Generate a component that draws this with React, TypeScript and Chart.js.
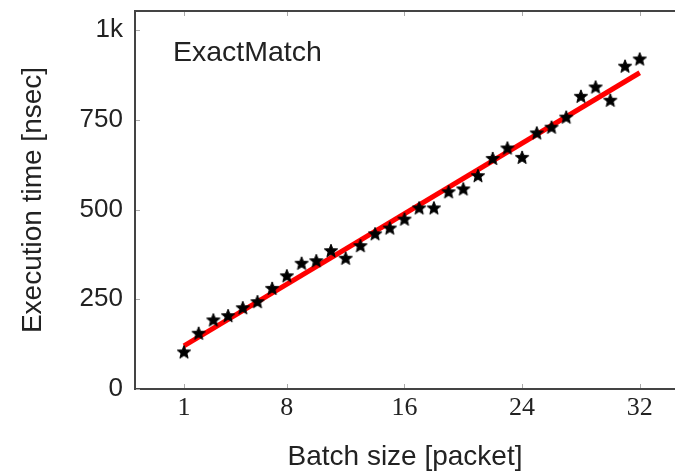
import React, { useEffect, useRef } from "react";
import { Chart, registerables } from "chart.js";

Chart.register(...registerables);

const batchSizes = [
  1, 2, 3, 4, 5, 6, 7, 8, 9, 10, 11, 12, 13, 14, 15, 16,
  17, 18, 19, 20, 21, 22, 23, 24, 25, 26, 27, 28, 29, 30, 31, 32,
];
const execTimes = [
  102, 154, 191, 203, 225, 242, 279, 314, 349, 356, 384, 363, 398, 431, 447, 472,
  503, 503, 548, 556, 593, 641, 670, 644, 712, 728, 756, 814, 840, 803, 898, 918,
];
const fitBatch = [1, 32];
const fitTimes = [120, 881];
const xTickValues = [1, 8, 16, 24, 32];
const yTickValues = [0, 250, 500, 750, 1000];
const yTickLabels = ["0", "250", "500", "750", "1k"];
const seriesLabel = "ExactMatch";
const xTitle = "Batch size [packet]";
const yTitle = "Execution time [nsec]";

const SANS = "'Liberation Sans', Arial, sans-serif";
const SERIF = "'Liberation Serif', 'Times New Roman', serif";
const TEXT = "#222222";
const AXIS = "#444444";

function makeStar(): HTMLCanvasElement {
  const s = 18;
  const c = document.createElement("canvas");
  c.width = s;
  c.height = s;
  const ctx = c.getContext("2d")!;
  ctx.translate(s / 2, s / 2);
  ctx.beginPath();
  for (let i = 0; i < 10; i++) {
    const r = i % 2 === 0 ? 7 : 3;
    const a = -Math.PI / 2 + (i * Math.PI) / 5;
    const x = r * Math.cos(a);
    const y = r * Math.sin(a);
    if (i === 0) ctx.moveTo(x, y);
    else ctx.lineTo(x, y);
  }
  ctx.closePath();
  ctx.fillStyle = "#000";
  ctx.fill();
  ctx.lineWidth = 1;
  ctx.strokeStyle = "#000";
  ctx.stroke();
  return c;
}

const framePlugin = {
  id: "frameAndLabel",
  afterDraw(chart: any) {
    const { ctx, chartArea } = chart;
    const xs = chart.scales.x;
    const ys = chart.scales.y;
    ctx.save();
    ctx.strokeStyle = AXIS;
    ctx.lineWidth = 2;
    ctx.beginPath();
    ctx.moveTo(chartArea.left, chartArea.top);
    ctx.lineTo(chartArea.right + 2, chartArea.top);
    ctx.stroke();
    ctx.strokeStyle = "#aaaaaa";
    ctx.lineWidth = 1;
    ctx.beginPath();
    for (const v of xTickValues) {
      const px = Math.round(xs.getPixelForValue(v)) + 0.5;
      ctx.moveTo(px, chartArea.bottom - 1);
      ctx.lineTo(px, chartArea.bottom - 5);
      ctx.moveTo(px, chartArea.top + 1);
      ctx.lineTo(px, chartArea.top + 5);
    }
    for (const v of yTickValues) {
      const py = Math.round(ys.getPixelForValue(v)) + 0.5;
      ctx.moveTo(chartArea.left + 1, py);
      ctx.lineTo(chartArea.left + 5, py);
    }
    ctx.stroke();
    ctx.fillStyle = TEXT;
    ctx.font = `28.5px ${SANS}`;
    ctx.textAlign = "left";
    ctx.textBaseline = "alphabetic";
    ctx.fillText(seriesLabel, chartArea.left + 38, chartArea.top + 50);
    ctx.restore();
  },
};

const zeroPad = (s: any) => {
  s.paddingLeft = 0;
  s.paddingRight = 0;
  s.paddingTop = 0;
  s.paddingBottom = 0;
};

export default function App() {
  const ref = useRef<HTMLCanvasElement | null>(null);

  useEffect(() => {
    if (!ref.current) return;
    const star = makeStar();
    const chart = new Chart(ref.current, {
      type: "scatter",
      data: {
        datasets: [
          {
            type: "scatter",
            label: seriesLabel,
            data: batchSizes.map((b, i) => ({ x: b, y: execTimes[i] })),
            pointStyle: star as any,
            pointRadius: 8,
            order: 0,
          },
          {
            type: "line",
            label: "fit",
            data: fitBatch.map((b, i) => ({ x: b, y: fitTimes[i] })),
            borderColor: "#ff0000",
            borderWidth: 5,
            pointRadius: 0,
            fill: false,
            order: 1,
          } as any,
        ],
      },
      options: {
        animation: false,
        responsive: false,
        devicePixelRatio: 1,
        layout: { autoPadding: false, padding: { top: 11, right: 0, left: 0, bottom: 0 } },
        plugins: {
          legend: { display: false },
          tooltip: { enabled: false },
        },
        scales: {
          x: {
            type: "linear",
            min: -2.33,
            max: 34.4,
            grid: { display: false, drawTicks: false },
            border: { display: true, color: AXIS, width: 2 },
            afterBuildTicks: (s: any) => {
              s.ticks = xTickValues.map((v) => ({ value: v }));
            },
            afterFit: (s: any) => {
              s.height = 86;
              zeroPad(s);
            },
            ticks: {
              color: TEXT,
              font: { family: SERIF, size: 26 },
              padding: 4,
              maxRotation: 0,
              autoSkip: false,
            },
            title: {
              display: true,
              text: xTitle,
              color: TEXT,
              font: { family: SANS, size: 28 },
              padding: { top: 0, bottom: 1 },
            },
          },
          y: {
            type: "linear",
            min: 0,
            max: 1053,
            grid: { display: false, drawTicks: false },
            border: { display: true, color: AXIS, width: 2 },
            afterBuildTicks: (s: any) => {
              s.ticks = yTickValues.map((v) => ({ value: v }));
            },
            afterFit: (s: any) => {
              s.width = 135;
              zeroPad(s);
            },
            ticks: {
              color: TEXT,
              font: { family: SANS, size: 26 },
              padding: 12,
              autoSkip: false,
              callback: (v: any) => {
                const i = yTickValues.indexOf(Number(v));
                return i >= 0 ? yTickLabels[i] : "";
              },
            },
            title: {
              display: true,
              text: yTitle,
              color: TEXT,
              font: { family: SANS, size: 28 },
              padding: { top: 16, bottom: 0 },
            },
          },
        },
      },
      plugins: [framePlugin],
    });
    return () => chart.destroy();
  }, []);

  return (
    <div
      style={{
        position: "fixed",
        left: 0,
        top: 0,
        width: 675,
        height: 475,
        overflow: "hidden",
        background: "#fff",
      }}
    >
      <canvas ref={ref} width={675} height={475} style={{ width: 675, height: 475, display: "block" }} />
    </div>
  );
}
